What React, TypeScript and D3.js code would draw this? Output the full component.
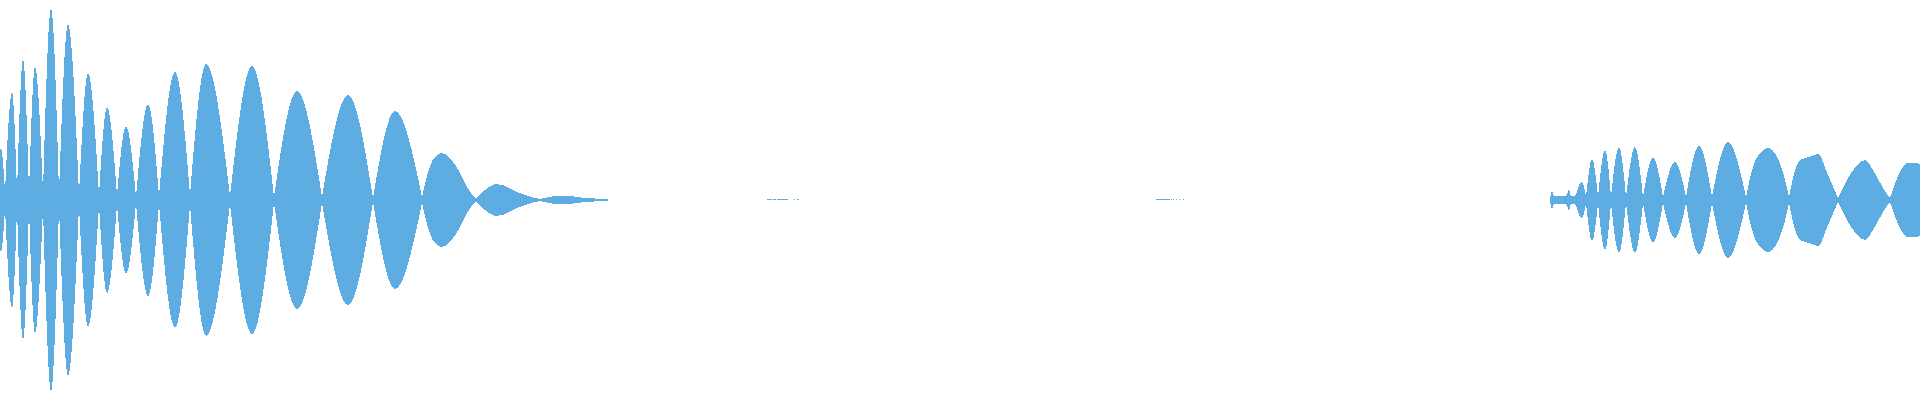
import React from "react";
import * as d3 from "d3";

const WIDTH = 1920;
const HEIGHT = 400;
const WAVE_COLOR = "#5dade2";

// Lobe boundaries (envelope minima) : column index and residual half-amplitude (fraction of full scale)
const NODE_X = [
  0, 5, 17, 29, 43, 59, 79, 99, 117, 136, 159, 190, 230, 274, 322, 373, 422, 476, 540, 608,
  1550, 1586, 1598, 1611, 1626, 1643, 1663, 1686, 1712, 1746, 1789, 1838, 1890, 1920,
];
const NODE_AMP = [
  0.25, 0.04, 0.04, 0.04, 0.04, 0.035, 0.03, 0.025, 0.025, 0.015, 0.02, 0.025, 0.02, 0.015, 0.015, 0.01, 0.015, 0.005, 0.005, 0.0025,
  0.0025, 0.015, 0.015, 0.015, 0.015, 0.015, 0.015, 0.015, 0.015, 0.015, 0.015, 0.01, 0.01, 0.18,
];

// Envelope shape points inside the lobes (column index, peak half-amplitude)
const ENV_X = [
  1, 12, 23, 35, 51, 68, 88, 107, 126, 148, 175, 206, 252, 297, 348, 395,
  426, 430, 435, 442, 450, 460, 467,
  485, 497, 517, 530,
  563, 585, 600,
  1552, 1554, 1566, 1569, 1571, 1575, 1577, 1580, 1582,
  1592, 1605, 1619, 1635, 1653, 1675, 1699, 1728,
  1753, 1760, 1768, 1777, 1783,
  1793, 1800, 1809, 1818, 1828,
  1847, 1857, 1865, 1873, 1883,
  1900, 1907, 1914,
];
const ENV_AMP = [
  0.255, 0.54, 0.7, 0.665, 0.955, 0.88, 0.635, 0.465, 0.37, 0.48, 0.64, 0.68, 0.67, 0.545, 0.525, 0.445,
  0.1, 0.17, 0.215, 0.235, 0.21, 0.135, 0.065,
  0.05, 0.08, 0.04, 0.017,
  0.0225, 0.01, 0.006,
  0.045, 0.02, 0.02, 0.053, 0.018, 0.02, 0.04, 0.085, 0.09,
  0.205, 0.25, 0.265, 0.265, 0.21, 0.19, 0.27, 0.29,
  0.165, 0.235, 0.26, 0.215, 0.14,
  0.11, 0.2, 0.215, 0.23, 0.125,
  0.1, 0.175, 0.2, 0.15, 0.06,
  0.14, 0.185, 0.185,
];

// Isolated low-level noise blips during the silent stretch
const NOISE_X0 = [767, 773, 777, 794, 797, 1156, 1171, 1173, 1176, 1179, 1183];
const NOISE_X1 = [771.7, 776, 788, 795, 799, 1170, 1172, 1174, 1177, 1180, 1184];
const NOISE_AMP = [0.005, 0.005, 0.005, 0.005, 0.005, 0.005, 0.005, 0.005, 0.005, 0.005, 0.005];

type Pt = { x: number; a: number };

export default function App() {
  const x = d3.scaleLinear().domain([0, 1920]).range([0, WIDTH]);
  const y = d3.scaleLinear().domain([-1, 1]).range([HEIGHT, 0]);

  const area = d3
    .area<Pt>()
    .x((d) => x(d.x))
    .y0((d) => y(-d.a))
    .y1((d) => y(d.a))
    .curve(d3.curveMonotoneX);

  const lobes: Pt[][] = [];
  for (let i = 0; i < NODE_X.length - 1; i++) {
    const x0 = NODE_X[i];
    const x1 = NODE_X[i + 1];
    const inner: Pt[] = [];
    ENV_X.forEach((ex, j) => {
      if (ex > x0 && ex < x1) inner.push({ x: ex, a: ENV_AMP[j] });
    });
    if (!inner.length) continue;
    lobes.push([{ x: x0, a: NODE_AMP[i] }, ...inner, { x: x1, a: NODE_AMP[i + 1] }]);
  }

  return (
    <svg
      width={WIDTH}
      height={HEIGHT}
      style={{ position: "absolute", left: 0, top: 0, display: "block", background: "#ffffff" }}
    >
      <g fill={WAVE_COLOR}>
        {lobes.map((pts, i) => (
          <path key={i} d={area(pts) || ""} shapeRendering="crispEdges" />
        ))}
        {NOISE_X0.map((x0, i) => (
          <rect
            key={"n" + i}
            x={x(x0)}
            width={Math.max(1, x(NOISE_X1[i]) - x(x0))}
            y={y(NOISE_AMP[i])}
            height={y(0) - y(NOISE_AMP[i])}
            shapeRendering="crispEdges"
          />
        ))}
      </g>
    </svg>
  );
}
